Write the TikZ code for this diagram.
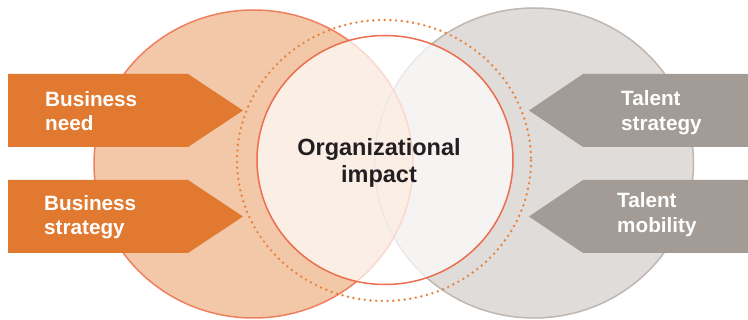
\documentclass[tikz,border=0pt]{standalone}
\usepackage{fontspec}
\setmainfont{Liberation Sans}
\definecolor{peachfill}{RGB}{242,200,168}
\definecolor{peachline}{RGB}{238,128,96}
\definecolor{greyfill}{RGB}{224,220,218}
\definecolor{greyline}{RGB}{190,183,178}
\definecolor{orangearrow}{RGB}{225,122,48}
\definecolor{greyarrow}{RGB}{163,155,149}
\definecolor{dotorange}{RGB}{232,130,60}
\definecolor{innerline}{RGB}{236,110,78}
\definecolor{darktext}{RGB}{35,31,32}
\tikzset{
  leftarrow/.style={fill=orangearrow},
  rightarrow/.style={fill=greyarrow},
  arrowtext/.style={text=white, font=\bfseries\fontsize{20.7}{24.5}\selectfont, align=left, anchor=base west, inner sep=0pt},
  centertext/.style={text=darktext, font=\bfseries\fontsize{23.5}{27}\selectfont, align=center, anchor=base, inner sep=0pt},
}
\begin{document}
\begin{tikzpicture}[x=1pt,y=-1pt]
\useasboundingbox (0,0) rectangle (748,320);
% big circles
\fill[greyfill] (534,163) ellipse [x radius=159.5, y radius=155];
\fill[peachfill] (253.5,164) ellipse [x radius=159.5, y radius=154];
\draw[greyline, line width=1.5pt] (534,163) ellipse [x radius=159.5, y radius=155];
\draw[peachline, line width=1.5pt] (253.5,164) ellipse [x radius=159.5, y radius=154];
% inner circle
\fill[white, fill opacity=0.7] (385,160) ellipse [x radius=128, y radius=124.5];
\draw[innerline, line width=1.5pt] (385,160) ellipse [x radius=128, y radius=124.5];
% dotted circle
\draw[dotorange, line width=2.7pt, line cap=round, dash pattern=on 0pt off 5.7pt] (384,160.5) ellipse [x radius=147, y radius=140.5];
% arrows
\fill[leftarrow] (8,74) -- (188,74) -- (243,110.5) -- (188,147) -- (8,147) -- cycle;
\fill[leftarrow] (8,180) -- (188,180) -- (243,216.5) -- (188,253) -- (8,253) -- cycle;
\fill[rightarrow] (748,74) -- (583,74) -- (529,110.5) -- (583,147) -- (748,147) -- cycle;
\fill[rightarrow] (748,180) -- (583,180) -- (529,216.5) -- (583,253) -- (748,253) -- cycle;
% texts (base anchor = baseline of the last line)
\node[arrowtext] (bneed) at (45,131) {Business\\need};
\node[arrowtext] (bstrat) at (44,235) {Business\\strategy};
\node[arrowtext] (tstrat) at (621,130.5) {Talent\\strategy};
\node[arrowtext] (tmob) at (617,232.5) {Talent\\mobility};
\node[centertext] (impact) at (379,183) {Organizational\\impact};
\end{tikzpicture}
\end{document}
